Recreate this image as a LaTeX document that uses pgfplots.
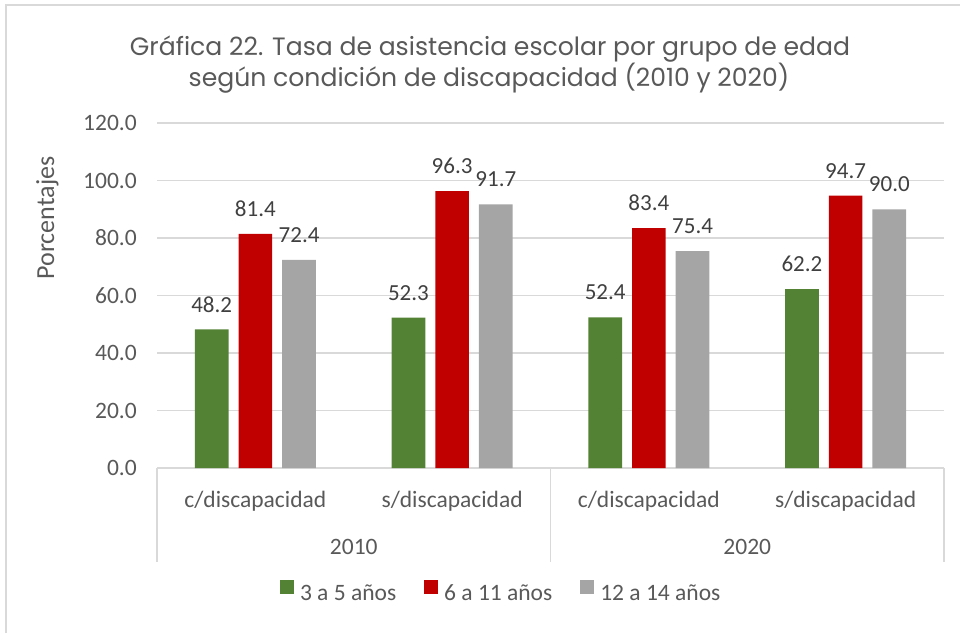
\documentclass[border=0pt]{standalone}
\usepackage{fontspec}
\setmainfont{Carlito}
\newfontfamily\titlefont{Poppins}
\usepackage{pgfplots}
\pgfplotsset{compat=1.18}
\definecolor{cgreen}{HTML}{548235}
\definecolor{cred}{HTML}{C00000}
\definecolor{cgray}{HTML}{A5A5A5}
\definecolor{cgrid}{HTML}{D9D9D9}
\definecolor{ctext}{HTML}{595959}
\definecolor{clab}{HTML}{404040}
\begin{document}
\begin{tikzpicture}[x=1pt,y=1pt]
\path[use as bounding box] (0,0) rectangle (960,-633);
\draw[cgrid, line width=1.2pt] (6,-633) -- (6,-5) -- (960,-5);
\node[font=\titlefont\fontsize{25.1}{30}\selectfont, text=ctext, anchor=base, inner sep=0pt] at (490,-55) {Gráfica 22. Tasa de asistencia escolar por grupo de edad};
\node[font=\titlefont\fontsize{25.1}{30}\selectfont, text=ctext, anchor=base, inner sep=0pt] at (489,-86) {según condición de discapacidad (2010 y 2020)};
\node[font=\fontsize{26}{31}\selectfont, text=ctext, anchor=base, rotate=90, inner sep=0pt] at (54,-218) {Porcentajes};
\begin{axis}[
  at={(157pt,-468pt)}, anchor=south west, scale only axis,
  width=787pt, height=345pt,
  ymin=0, ymax=120, xmin=-0.5, xmax=3.5,
  ytick={0,20,...,120}, xtick=\empty,
  axis line style={draw=none},
  ymajorgrids, grid style={cgrid, line width=1.2pt},
  major tick length=0pt,
  ybar=10pt, bar width=33.7pt, clip=false,
  yticklabel style={font=\fontsize{23.5}{28}\selectfont, text=ctext, inner sep=0pt, xshift=-20pt},
  nodes near coords,
  every node near coord/.append style={font=\fontsize{23}{27}\selectfont, text=clab, anchor=south, inner sep=0pt, yshift=17pt},
  legend columns=3,
  legend style={at={(0.1563,-0.3565)}, anchor=west, draw=none, inner sep=0pt, outer sep=0pt,
    font=\fontsize{23.5}{28}\selectfont, text=ctext,
    nodes={inner sep=0pt},
    /tikz/every odd column/.append style={column sep=6pt},
    /tikz/every even column/.append style={column sep=28pt}},
  legend image code/.code={\fill[#1] (0pt,0pt) rectangle (14pt,14pt);},
  /pgf/number format/fixed, /pgf/number format/fixed zerofill,
  /pgf/number format/precision=1, /pgf/number format/assume math mode=true,
]
\addplot[fill=cgreen, draw=none] coordinates {(0,48.2) (1,52.3) (2,52.4) (3,62.2)};
\addplot[fill=cred, draw=none] coordinates {(0,81.4) (1,96.3) (2,83.4) (3,94.7)};
\addplot[fill=cgray, draw=none] coordinates {(0,72.4) (1,91.7) (2,75.4) (3,90.0)};
\legend{3 a 5 años, 6 a 11 años, 12 a 14 años}
\draw[cgrid, line width=1.2pt] (axis cs:-0.5,0) -- ++(0pt,-94pt);
\draw[cgrid, line width=1.2pt] (axis cs:1.5,0) -- ++(0pt,-94pt);
\draw[cgrid, line width=1.2pt] (axis cs:3.5,0) -- ++(0pt,-94pt);
\node[font=\fontsize{23.5}{28}\selectfont, text=ctext, anchor=base, yshift=-39pt] at (axis cs:0,0) {c/discapacidad};
\node[font=\fontsize{23.5}{28}\selectfont, text=ctext, anchor=base, yshift=-39pt] at (axis cs:1,0) {s/discapacidad};
\node[font=\fontsize{23.5}{28}\selectfont, text=ctext, anchor=base, yshift=-39pt] at (axis cs:2,0) {c/discapacidad};
\node[font=\fontsize{23.5}{28}\selectfont, text=ctext, anchor=base, yshift=-39pt] at (axis cs:3,0) {s/discapacidad};
\node[font=\fontsize{23.5}{28}\selectfont, text=ctext, anchor=base, yshift=-86pt] at (axis cs:0.5,0) {2010};
\node[font=\fontsize{23.5}{28}\selectfont, text=ctext, anchor=base, yshift=-86pt] at (axis cs:2.5,0) {2020};
\end{axis}
\end{tikzpicture}
\end{document}
